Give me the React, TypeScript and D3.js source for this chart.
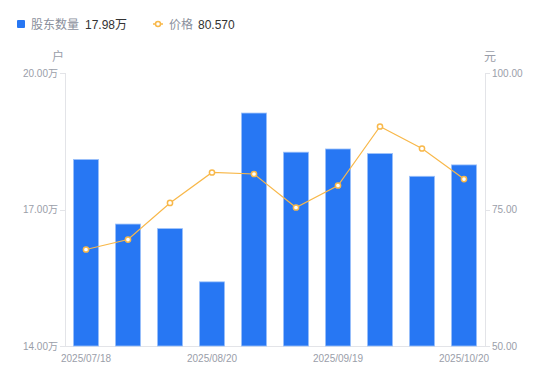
import React from "react";
import * as d3 from "d3";

const categories = ["2025/07/18", "2025/07/31", "2025/08/10", "2025/08/20", "2025/08/29", "2025/09/10", "2025/09/19", "2025/09/30", "2025/10/10", "2025/10/20"];
const holders = [18.1, 16.68, 16.58, 15.41, 19.12, 18.26, 18.33, 18.23, 17.73, 17.98];
const prices = [67.67, 69.5, 76.2, 81.78, 81.5, 75.37, 79.4, 90.2, 86.17, 80.57];
const leftTicks = [14, 17, 20];
const rightTicks = [50, 75, 100];
const shownLabels = ["2025/07/18", "2025/08/20", "2025/09/19", "2025/10/20"];

const W = 550, H = 381;
const M = { left: 65, right: 485, top: 73, bottom: 346 };
const FONT = "'Liberation Sans', 'Noto Sans CJK SC', sans-serif";

export default function App() {
  const x = d3.scaleBand<string>().domain(categories).range([M.left, M.right]).paddingInner(0.4).paddingOuter(0.2);
  const xc = d3.scalePoint<string>().domain(categories).range([M.left, M.right]).padding(0.5);
  const yL = d3.scaleLinear().domain([14, 20]).range([M.bottom, M.top]);
  const yR = d3.scaleLinear().domain([50, 100]).range([M.bottom, M.top]);
  const line = d3.line<number>().x((_, i) => xc(categories[i])!).y((d) => yR(d));
  const bw = x.bandwidth();
  return (
    <svg width={W} height={H} style={{ position: "absolute", left: 0, top: 0, fontFamily: FONT }}>
      <rect x={0} y={0} width={W} height={H} fill="#fff" />
      {/* legend */}
      <rect x={17} y={20} width={8} height={8} rx={1} fill="#2777f3" />
      <text x={31} y={28.5} fontSize={12} fill="#8a8f9c">股东数量</text>
      <text x={85} y={28.5} fontSize={12} fill="#333">17.98万</text>
      <line x1={153} x2={163} y1={24} y2={24} stroke="#f8b84a" strokeWidth={1.5} />
      <circle cx={158} cy={24} r={2.5} fill="#fff" stroke="#f8b84a" strokeWidth={1.5} />
      <text x={169} y={28.5} fontSize={12} fill="#8a8f9c">价格</text>
      <text x={198} y={28.5} fontSize={12} fill="#333">80.570</text>
      {/* unit labels */}
      <text x={58} y={61} fontSize={12} fill="#9a9ea9" textAnchor="middle">户</text>
      <text x={490} y={61} fontSize={12} fill="#9a9ea9" textAnchor="middle">元</text>
      {/* axes */}
      <line x1={M.left + 0.5} x2={M.left + 0.5} y1={M.top} y2={M.bottom} stroke="#e3e4e8" />
      <line x1={M.right + 0.5} x2={M.right + 0.5} y1={M.top} y2={M.bottom} stroke="#e3e4e8" />
      <line x1={M.left} x2={M.right} y1={M.bottom + 0.5} y2={M.bottom + 0.5} stroke="#e3e4e8" />
      {leftTicks.map((t) => (
        <g key={"l" + t}>
          <line x1={M.left - 5} x2={M.left} y1={Math.round(yL(t)) + 0.5} y2={Math.round(yL(t)) + 0.5} stroke="#e3e4e8" />
          <text x={M.left - 7} y={yL(t) + 3.5} fontSize={10} fill="#9a9ea9" textAnchor="end">{t.toFixed(2)}万</text>
        </g>
      ))}
      {rightTicks.map((t) => (
        <g key={"r" + t}>
          <line x1={M.right} x2={M.right + 5} y1={Math.round(yR(t)) + 0.5} y2={Math.round(yR(t)) + 0.5} stroke="#e3e4e8" />
          <text x={M.right + 7} y={yR(t) + 3.5} fontSize={10} fill="#9a9ea9">{t.toFixed(2)}</text>
        </g>
      ))}
      {shownLabels.map((c) => (
        <text key={c} x={xc(c)!} y={361.5} fontSize={10} fill="#9a9ea9" textAnchor="middle">{c}</text>
      ))}
      {/* bars */}
      {holders.map((v, i) => (
        <rect key={i} x={x(categories[i])!} y={yL(v)} width={bw} height={M.bottom - yL(v)} fill="#2777f3" stroke="#9ec2fa" strokeWidth={0.8} />
      ))}
      {/* price line */}
      <path d={line(prices)!} fill="none" stroke="#f8b84a" strokeWidth={1.2} />
      {prices.map((v, i) => (
        <circle key={i} cx={xc(categories[i])!} cy={yR(v)} r={2.6} fill="#fff" stroke="#f8b84a" strokeWidth={1.5} />
      ))}
    </svg>
  );
}
